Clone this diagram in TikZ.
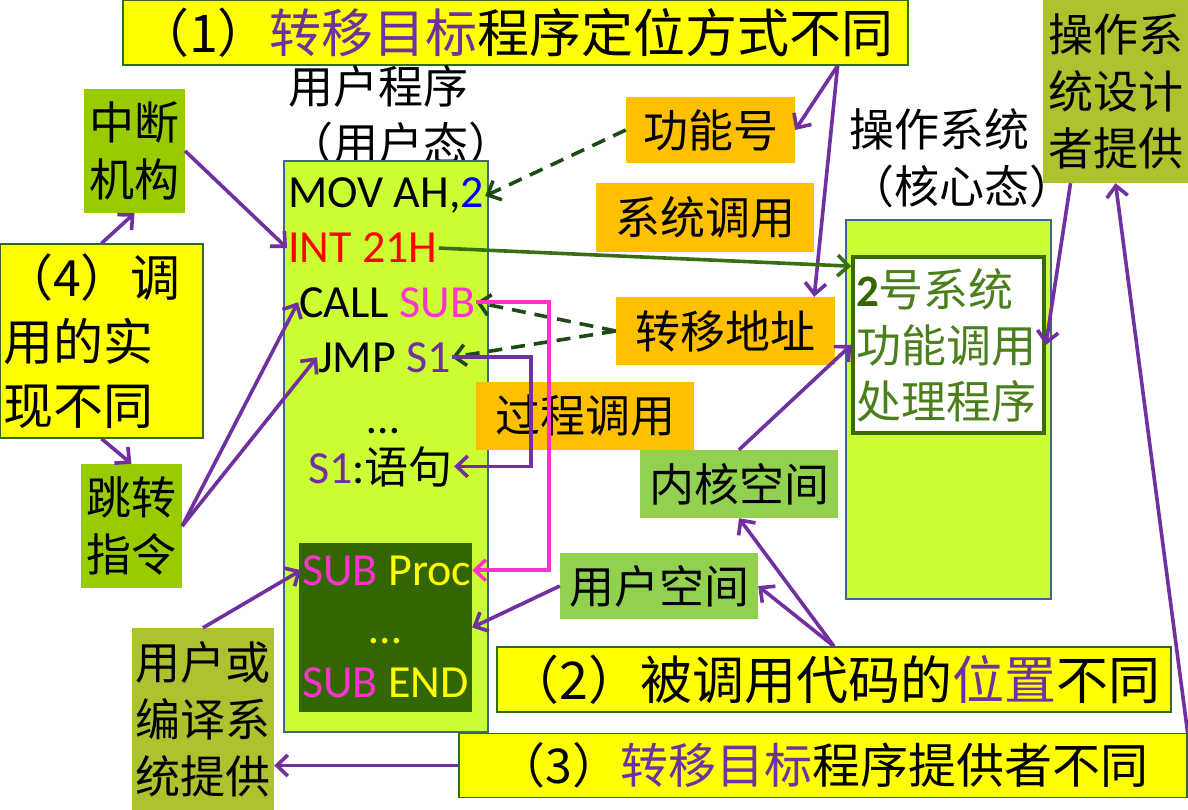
\documentclass[tikz,border=0pt]{standalone}
\usepackage{fontspec}
\setmainfont{Carlito}
\newfontfamily\cjk{Noto Sans CJK SC}
\usetikzlibrary{arrows.meta}
\definecolor{purp}{HTML}{7030A0}
\definecolor{ylw}{HTML}{FFFF00}
\definecolor{bdrg}{HTML}{2F6B1F}
\definecolor{olv}{HTML}{99CC00}
\definecolor{olvb}{HTML}{AEC12F}
\definecolor{org}{HTML}{FFC000}
\definecolor{grn}{HTML}{92D050}
\definecolor{limeg}{HTML}{CCFF33}
\definecolor{bluebd}{HTML}{41658F}
\definecolor{dkg}{HTML}{336600}
\definecolor{pnk}{HTML}{FF33CC}
\definecolor{blu}{HTML}{0000FF}
\definecolor{dgreen}{HTML}{1E4A14}
\definecolor{igreen}{HTML}{3A6E12}
\definecolor{ibd}{HTML}{3A6B0A}
\definecolor{itxt}{HTML}{4B7F1C}
\newcommand{\fsz}[1]{\fontsize{#1}{#1}\selectfont}
\tikzset{
  box/.style={inner sep=0pt, align=center},
  ybox/.style={box, fill=ylw, draw=bdrg, line width=1.3pt},
  obox/.style={box, fill=org},
  gbox/.style={box, fill=grn},
  lbox/.style={box, fill=olv},
  kbox/.style={box, fill=olvb},
  prog/.style={fill=limeg, draw=bluebd, line width=2.8pt},
  code/.style={inner sep=1pt, anchor=base west, font=\fsz{46}},
  cn/.style={font=\cjk\fontsize{45}{57}\selectfont},
  tip/.style={-{Straight Barb[length=11pt,width=21pt]}},
  parrow/.style={draw=purp, line width=3.6pt, tip},
  darrow/.style={draw=dgreen, line width=3.6pt, dash pattern=on 14pt off 9pt, tip},
  garrow/.style={draw=igreen, line width=3.6pt, tip},
  pkarrow/.style={draw=pnk, line width=3.6pt, tip},
}
\begin{document}
\begin{tikzpicture}[x=1pt,y=-1pt]
\useasboundingbox (0,0) rectangle (1188,810);

\node[ybox, minimum width=785pt, minimum height=65pt, font=\cjk\fsz{52}] (ttl) at (515.5,32.5) {（1）\textcolor{purp}{转移目标}程序定位方式不同};

\node[cn, anchor=west, align=left, inner sep=0pt] (yhcx) at (288,115) {用户程序\\（用户态）};
\node[prog, minimum width=204pt, minimum height=571pt] (ubox) at (386,446.5) {};
\node[fill=dkg, minimum width=173pt, minimum height=169pt, inner sep=0pt] (sbox) at (385.5,627.5) {};

\node[code] (mov) at (287,208) {MOV AH,\textcolor{blu}{2}};
\node[code, text=red] (int) at (287,263) {INT 21H};
\node[code] (call) at (298,317) {CALL \textcolor{pnk}{SUB}};
\node[code] (jmp) at (317,372) {JMP \textcolor{purp}{S1}};
\node[code, anchor=base] (dots) at (383,433) {…};
\node[code] (s1) at (307,483) {\textcolor{purp}{S1}:{\cjk\fsz{44}语句}};
\node[code, text=ylw] (subproc) at (301,585) {\textcolor{pnk}{SUB} Proc};
\node[code, anchor=base, text=ylw] (subdots) at (385,643) {…};
\node[code, text=ylw] (subend) at (301,697) {\textcolor{pnk}{SUB} END};

\node[lbox, cn, minimum width=101pt, minimum height=124pt] (zdjg) at (134.5,151) {中断\\机构};
\node[ybox, font=\cjk\fontsize{50}{64}\selectfont, align=left, text width=197pt, inner sep=3pt, minimum height=194pt] (dy4) at (101.5,341) {（4）调\\用的实\\现不同};
\node[lbox, cn, minimum width=101pt, minimum height=124pt] (tzzl) at (131.5,526) {跳转\\指令};
\node[kbox, cn, minimum width=142pt, minimum height=182pt] (yhby) at (203,719) {用户或\\编译系\\统提供};

\node[obox, cn, minimum width=169pt, minimum height=66pt] (gnh) at (710.5,130) {功能号};
\node[obox, cn, minimum width=218pt, minimum height=69pt] (xtdy) at (705,217.5) {系统调用};
\node[obox, cn, minimum width=219pt, minimum height=68pt] (zydz) at (725.5,331) {转移地址};
\node[obox, cn, minimum width=218pt, minimum height=68pt] (gcdy) at (585,416) {过程调用};
\node[gbox, cn, minimum width=198pt, minimum height=68pt] (nkkj) at (739,484) {内核空间};
\node[gbox, cn, minimum width=198pt, minimum height=66pt] (yhkj) at (659,586) {用户空间};

\node[cn, anchor=west, align=left, inner sep=0pt] (oslab) at (849,158) {操作系统\\（核心态）};
\node[prog, minimum width=205pt, minimum height=379pt] (osb) at (948.5,409.5) {};
\node[fill=white, draw=ibd, line width=3.6pt, text=itxt, font=\cjk\fontsize{45}{56}\selectfont, align=left, text width=185pt, inner sep=3pt, minimum height=176pt] (clcx) at (948.5,345) {{\normalfont\bfseries\textcolor{dkg}{2}}号系统\\功能调用\\处理程序};
\node[kbox, cn, minimum width=145pt, minimum height=183pt] (sjz) at (1115.5,91.5) {操作系\\统设计\\者提供};

\node[ybox, minimum width=674pt, minimum height=65pt, font=\cjk\fsz{52}] (d2) at (834,679.5) {（2）被调用代码的\textcolor{purp}{位置}不同};
\node[ybox, minimum width=728pt, minimum height=64pt, font=\cjk\fsz{48}] (d3) at (823,765.5) {（3）\textcolor{purp}{转移目标}程序提供者不同};

\draw[parrow] ([xshift=-71pt]ttl.south east) -- (gnh.east);
\draw[parrow] ([xshift=-71pt]ttl.south east) -- ([xshift=-21pt]zydz.north east);
\draw[parrow] (zdjg.east) -- (int.west);
\draw[parrow] (dy4.north) -- (zdjg.south);
\draw[parrow] (dy4.south) -- (tzzl.north);
\draw[parrow] (tzzl.east) -- (call.west);
\draw[parrow] (tzzl.east) -- (jmp.west);
\draw[parrow] (yhby.north) -- (subproc.west);
\draw[parrow] (d3.west) -- (d3.west -| yhby.east);
\draw[parrow] (d2.north) -- (yhkj.east);
\draw[parrow] (d2.north) -- (nkkj.south);
\draw[parrow] (nkkj.north) -- (clcx.west);
\draw[parrow] (yhkj.west) -- (sbox.east);
\draw[parrow] ([xshift=-45pt]sjz.south) -- (clcx.east);
\draw[parrow] (d3.north east) -- (sjz.south);
\draw[darrow] (gnh.west) -- (mov.east);
\draw[darrow] (zydz.west) -- (call.east);
\draw[darrow] (zydz.west) -- (jmp.east);
\draw[garrow] (int.east) -- ([yshift=-11pt]clcx.north west);
\draw[pkarrow] (call.east) -- ++(73,0) |- (subproc.east);
\draw[parrow] (jmp.east) -- ++(79,0) |- (s1.east);
\end{tikzpicture}
\end{document}
